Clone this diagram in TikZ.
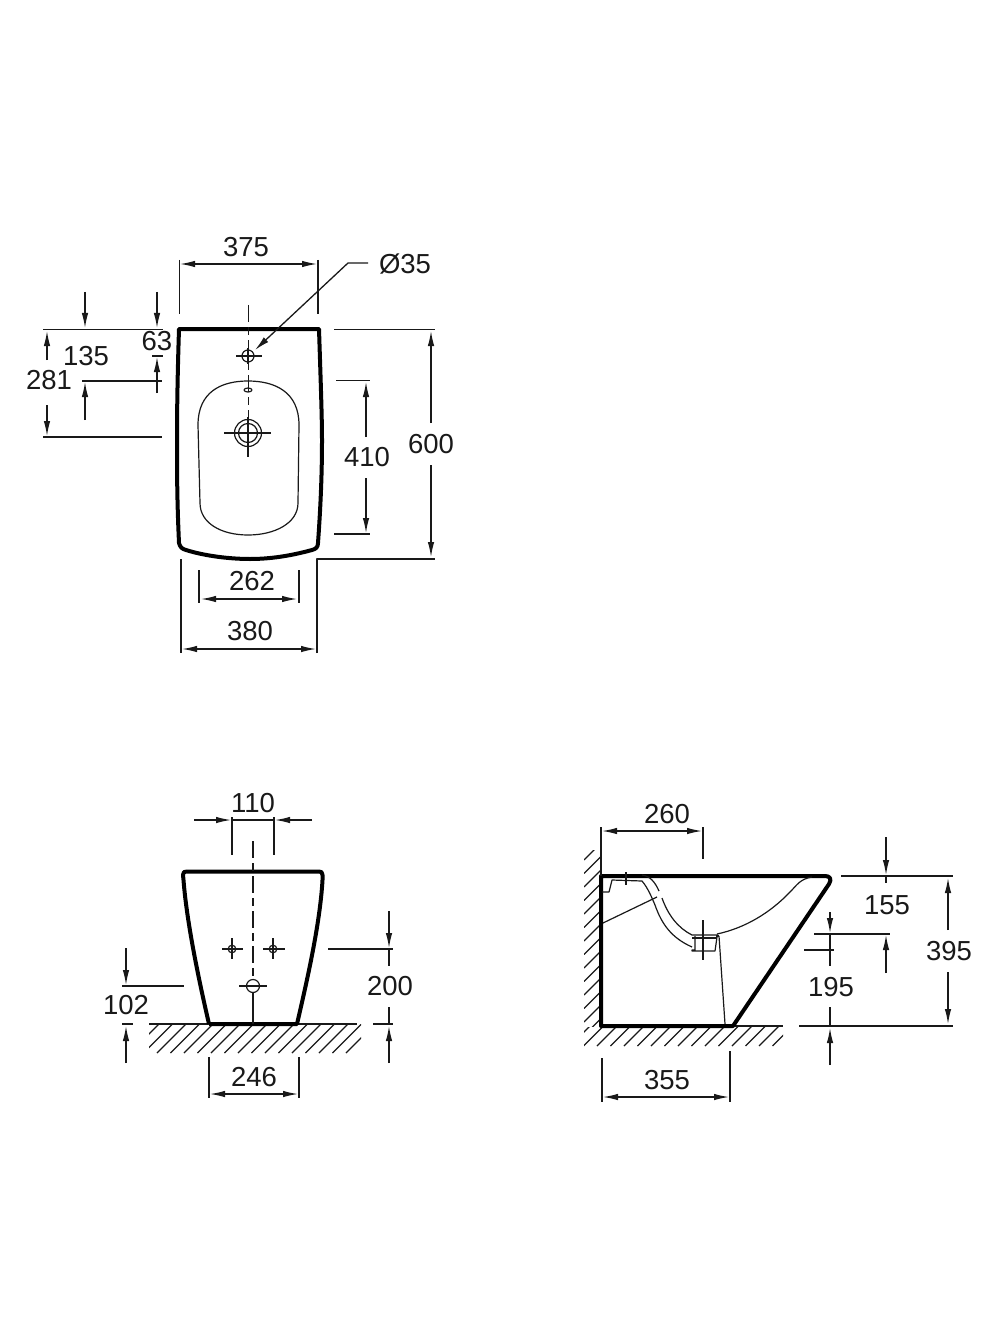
\documentclass[tikz,border=0pt]{standalone}
\usepackage{fontspec}
\setmainfont{Liberation Sans}
\usetikzlibrary{arrows.meta}
\tikzset{
  dimline/.style={line width=1.3bp,draw=black!90},
  outline/.style={line width=4bp,draw=black,line join=round},
  thinline/.style={line width=1.2bp,draw=black!90},
  centerline/.style={line width=1.5bp,draw=black!90,dash pattern=on 17bp off 5bp on 8bp off 5bp},
  dimtext/.style={font=\fontsize{27.5bp}{30bp}\selectfont,text=black!90,inner sep=0pt},
}
\begin{document}
\begin{tikzpicture}[x=1bp,y=-1bp,>={Latex[length=15bp,width=6.5bp]},line join=bevel]
\useasboundingbox (0,0) rectangle (1000,1340);
%% top view
\draw [outline] (179,329) -- (319,329) .. controls (321,390) and (322,420) .. (322,440) .. controls (322,480) and (320,515) .. (318,543) .. controls (318,547) and (316,549) .. (312,550) .. controls (290,556) and (270,559) .. (250,559) .. controls (230,559) and (205,556) .. (186,550) .. controls (182,549) and (180,547) .. (179,543) .. controls (177,500) and (177,470) .. (177,440) .. controls (177,400) and (178,360) .. (179,329) -- cycle;
\draw [thinline] (248,381) .. controls (275,381) and (299,392) .. (299,425) -- (298,503) .. controls (298,523) and (275,535) .. (248,535) .. controls (221,535) and (200,523) .. (200,503) -- (198,425) .. controls (198,392) and (221,381) .. (248,381) -- cycle;
\draw [centerline] (248.5,305) -- (248.5,417);
\draw [thinline,fill=white] (248,356) circle (6bp);
\draw [dimline,line width=1.6bp] (236,356) -- (262,356) (248,348) -- (248,364);
\draw [thinline] (248,390) ellipse (4bp and 2bp);
\draw [thinline,fill=white] (248,433) circle (13.5bp);
\draw [thinline] (248,433) circle (9.5bp);
\draw [dimline,line width=1.6bp] (224,433) -- (271,433) (248,417) -- (248,457);
%
\node (w375) at (246,247) [dimtext] {375};
\draw [dimline] (179.5,260) -- (179.5,314);
\draw [dimline] (318,260) -- (318,314);
\draw [dimline,<->] (180,264) -- (317,264);
\node (dia35) at (405,264) [dimtext] {Ø35};
\draw [dimline,->] (368,263) -- (348,263) -- (255,350);
\draw [dimline] (43,329.5) -- (163,329.5);
\draw [dimline] (82,381) -- (162,381);
\draw [dimline] (43,437) -- (162,437);
\draw [dimline,->] (85,292) -- (85,328);
\draw [dimline,->] (85,420) -- (85,382);
\node (h135) at (86,356) [dimtext] {135};
\draw [dimline,->] (157,292) -- (157,328);
\draw [dimline,->] (157,393) -- (157,357);
\draw [dimline] (152,356) -- (163,356);
\node (h63) at (157,341) [dimtext] {63};
\draw [dimline,->] (47,360) -- (47,331);
\draw [dimline,->] (47,405) -- (47,436);
\node (h281) at (49,380) [dimtext] {281};
\draw [dimline] (336,380.5) -- (370,380.5);
\draw [dimline] (334,534) -- (370,534);
\draw [dimline,->] (366,437) -- (366,382);
\draw [dimline,->] (366,478) -- (366,533);
\node (h410) at (367,457) [dimtext] {410};
\draw [dimline] (334,329.5) -- (435,329.5);
\draw [dimline] (317,653) -- (317,559) -- (435,559);
\draw [dimline,->] (431,423) -- (431,331);
\draw [dimline,->] (431,465) -- (431,557);
\node (h600) at (431,444) [dimtext] {600};
\draw [dimline] (199,570) -- (199,603);
\draw [dimline] (299,570) -- (299,603);
\draw [dimline,<->] (201,599) -- (297,599);
\node (w262) at (252,581) [dimtext] {262};
\draw [dimline] (181,559) -- (181,653);
\draw [dimline,<->] (182,649) -- (316,649);
\node (w380) at (250,631) [dimtext] {380};
%% front view
\begin{scope}
  \clip (149,1024) rectangle (361,1053);
  \foreach \hx in {130,143.5,...,350} {
    \draw [thinline] (\hx,1053) -- (\hx+29,1024);
  }
\end{scope}
\draw [dimline] (149,1024) -- (357,1024);
\draw [outline] (209,1024) -- (297,1024) .. controls (306,985) and (320,925) .. (322.5,880) -- (322.5,875) .. controls (322.5,872) and (321,871.5) .. (319,871.5) -- (187,871.5) .. controls (184,871.5) and (183,872) .. (183,875) -- (183.5,880) .. controls (187,925) and (200,985) .. (209,1024);
\draw [centerline] (253,841) -- (253,980);
\draw [thinline] (253,992) -- (253,1024);
\draw [thinline,fill=white] (232,949) circle (3.8bp);
\draw [thinline,fill=white] (273,949) circle (3.8bp);
\draw [thinline,fill=white] (253,986) circle (6.5bp);
\draw [dimline,line width=1.6bp] (222,949) -- (243,949) (232,938) -- (232,959);
\draw [dimline,line width=1.6bp] (263,949) -- (285,949) (273,938) -- (273,959);
\draw [dimline,line width=1.6bp] (239,986) -- (267,986);
%
\node (w110) at (253,803) [dimtext] {110};
\draw [dimline] (232,817) -- (232,855);
\draw [dimline] (274,817) -- (274,855);
\draw [dimline] (232,820) -- (274,820);
\draw [dimline,->] (194,820) -- (231,820);
\draw [dimline,->] (312,820) -- (275,820);
\draw [dimline] (328,949) -- (393,949);
\draw [dimline,->] (389,911) -- (389,948);
\draw [dimline] (389,949) -- (389,966);
\node (h200) at (390,986) [dimtext] {200};
\draw [dimline] (373,1024) -- (393,1024);
\draw [dimline] (389,1007) -- (389,1024);
\draw [dimline,->] (389,1063) -- (389,1026);
\draw [dimline] (122,986) -- (184,986);
\draw [dimline,->] (126,948) -- (126,985);
\node (h102) at (126,1005) [dimtext] {102};
\draw [dimline] (122,1024) -- (133,1024);
\draw [dimline,->] (126,1063) -- (126,1026);
\draw [dimline] (209,1057) -- (209,1098);
\draw [dimline] (299,1057) -- (299,1098);
\draw [dimline,<->] (210,1094) -- (298,1094);
\node (w246) at (254,1077) [dimtext] {246};
%% side view
\begin{scope}
  \clip (584,850) rectangle (600,1026);
  \foreach \hy in {860,873.5,...,1040} {
    \draw [thinline] (584,\hy) -- (604,\hy-20);
  }
\end{scope}
\begin{scope}
  \clip (584,1027) rectangle (783,1046);
  \foreach \hx in {570,583.5,...,780} {
    \draw [thinline] (\hx,1046) -- (\hx+20,1026);
  }
\end{scope}
\draw [dimline] (601,1026) -- (783,1026);
\draw [outline] (601,876) -- (825,876) .. controls (830,876) and (832,879) .. (829,884) -- (733,1026) -- (601,1026) -- cycle;
\draw [thinline] (812,877) .. controls (800,879) and (797,885) .. (790,892) .. controls (770,913) and (745,928) .. (717,934);
\draw [thinline] (603,923) -- (657,897);
\draw [thinline] (602,892) -- (609,892) -- (612,880) -- (642,881) .. controls (648,888) and (652,898) .. (655,905) .. controls (662,925) and (672,938) .. (692,947);
\draw [thinline] (642,875) .. controls (650,876) and (655,882) .. (659,891);
\draw [thinline] (662,898) .. controls (668,915) and (678,928) .. (692,935) -- (718,935);
\draw [thinline] (695,936) -- (695,950) -- (692,950) -- (692,951) -- (715,951) -- (717,937);
\draw [thinline] (719,936) -- (725,1024);
\draw [thinline] (716,936) -- (719,936);
\draw [dimline,line width=1.6bp] (626,872) -- (626,885);
\draw [dimline,line width=1.6bp] (703,920) -- (703,960) (692,938) -- (717,938);
%
\node (w260) at (667,814) [dimtext] {260};
\draw [dimline] (601,827) -- (601,876);
\draw [dimline] (703,827) -- (703,859);
\draw [dimline,<->] (602,831) -- (702,831);
\draw [dimline] (841,876) -- (953,876);
\draw [dimline,->] (886,837) -- (886,875);
\draw [dimline] (886,876) -- (886,883);
\node (h155) at (887,905) [dimtext] {155};
\draw [dimline] (814,934) -- (890,934);
\draw [dimline,->] (886,973) -- (886,935);
\draw [dimline] (804,950) -- (834,950);
\draw [dimline,->] (830,912) -- (830,933);
\draw [dimline] (830,934) -- (830,966);
\node (h195) at (831,987) [dimtext] {195};
\draw [dimline] (799,1026) -- (953,1026);
\draw [dimline] (830,1007) -- (830,1026);
\draw [dimline,->] (830,1065) -- (830,1028);
\draw [dimline,->] (948,930) -- (948,878);
\draw [dimline,->] (948,972) -- (948,1024);
\node (h395) at (949,951) [dimtext] {395};
\draw [dimline] (602,1058) -- (602,1102);
\draw [dimline] (730,1051) -- (730,1102);
\draw [dimline,<->] (603,1097) -- (729,1097);
\node (w355) at (667,1080) [dimtext] {355};
%
\end{tikzpicture}
\end{document}
